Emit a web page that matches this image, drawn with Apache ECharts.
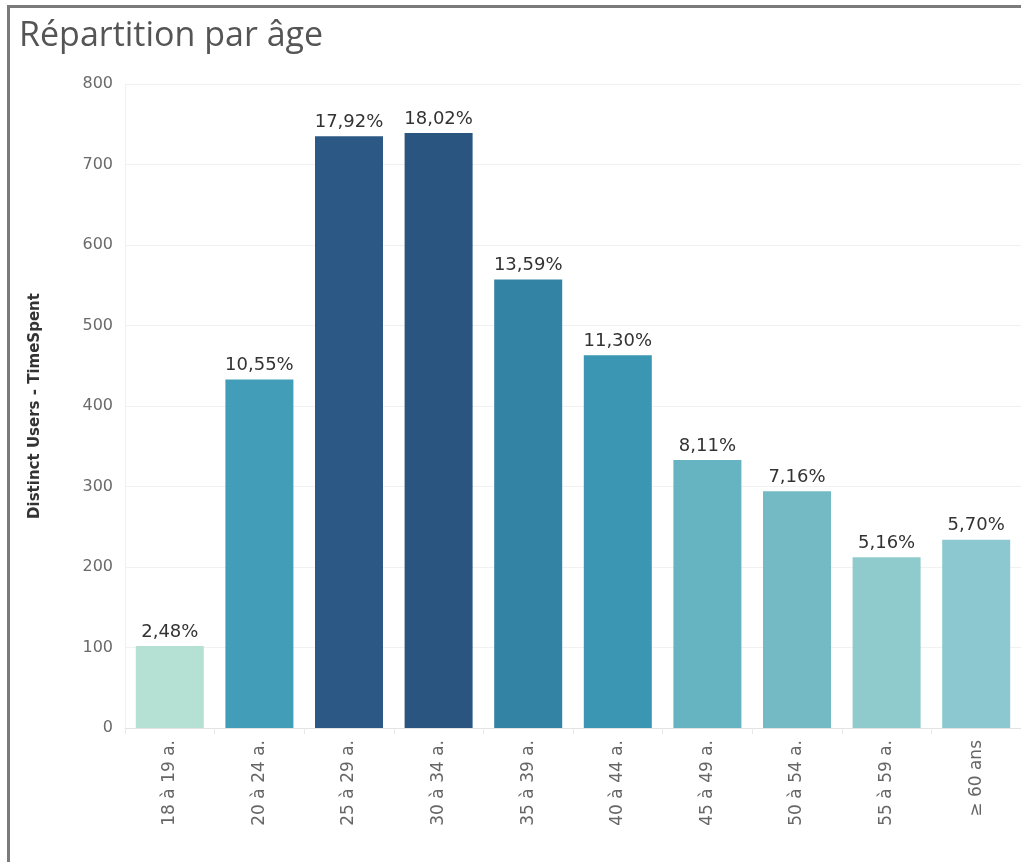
<!DOCTYPE html>
<html style="height: 100%">
<head>
    <meta charset="utf-8">
    <style>
        body { margin: 0; background: #fff; }
        .frame {
            position: absolute;
            left: 7px; top: 5px;
            width: 1014px; height: 857px;
            border-top: 3px solid #7b7b7b;
            border-left: 3px solid #7b7b7b;
            box-sizing: border-box;
        }
        #main {
            position: absolute;
            left: 0; top: 0;
            width: 1021px; height: 862px;
        }
    </style>
    <script type="text/javascript" src="https://cdn.jsdelivr.net/npm/echarts@6/dist/echarts.min.js"></script>
</head>
<body>
<div class="frame"></div>
<div id="main"></div>
<script type="text/javascript">
    // tranches d'âge
    var categories = ['18 à 19 a.', '20 à 24 a.', '25 à 29 a.', '30 à 34 a.', '35 à 39 a.',
                      '40 à 44 a.', '45 à 49 a.', '50 à 54 a.', '55 à 59 a.', '>= 60 ans'];
    // Distinct Users - TimeSpent
    var users = [102, 433, 735, 739, 557, 463, 333, 294, 212, 234];
    // part de chaque tranche
    var shares = ['2,48%', '10,55%', '17,92%', '18,02%', '13,59%', '11,30%', '8,11%', '7,16%', '5,16%', '5,70%'];
    var yTicks = [0, 100, 200, 300, 400, 500, 600, 700, 800];

    var barColors = ['#b4e1d4', '#419db8', '#2c5885', '#2b5581', '#3383a4',
                     '#3a96b2', '#66b3c2', '#73bac5', '#8fcbcd', '#8bc8cf'];

    var titleFont = '"Open Sans", "Noto Sans", sans-serif';
    var font = '"DejaVu Sans", "Open Sans", sans-serif';

    var dom = document.getElementById('main');
    var myChart = echarts.init(dom);
    var option = {
        animation: false,
        title: {
            text: 'Répartition par âge',
            left: 14,
            top: 14,
            textStyle: {
                fontFamily: titleFont,
                fontSize: 34,
                fontWeight: 'normal',
                color: '#555'
            }
        },
        grid: {
            left: 125,
            right: -10,
            top: 84,
            bottom: 134,
            containLabel: false
        },
        xAxis: {
            type: 'category',
            data: categories,
            axisLine: { lineStyle: { color: '#e3e3e3' } },
            axisTick: { show: true, length: 6, lineStyle: { color: '#e8e8e8' } },
            axisLabel: {
                rotate: 90,
                margin: 12,
                fontFamily: font,
                fontSize: 17,
                color: '#666',
                formatter: function (v) { return v.replace('>=', '≥'); }
            }
        },
        yAxis: {
            type: 'value',
            min: yTicks[0],
            max: yTicks[yTicks.length - 1],
            interval: 100,
            name: 'Distinct Users - TimeSpent',
            nameLocation: 'middle',
            nameGap: 82,
            nameTextStyle: {
                fontFamily: font,
                fontSize: 15,
                fontWeight: 'bold',
                color: '#333'
            },
            axisLine: { show: true, lineStyle: { color: '#f0f0f0' } },
            axisTick: { show: false },
            axisLabel: {
                margin: 12,
                fontFamily: font,
                fontSize: 16,
                color: '#6a6a6a'
            },
            splitLine: { lineStyle: { color: '#f1f1f1' } }
        },
        series: [{
            type: 'bar',
            barWidth: 68,
            data: users.map(function (v, i) {
                return { value: v, itemStyle: { color: barColors[i] } };
            }),
            label: {
                show: true,
                position: 'top',
                distance: 5,
                fontFamily: font,
                fontSize: 18,
                color: '#333',
                formatter: function (p) { return shares[p.dataIndex]; }
            }
        }]
    };
    myChart.setOption(option);
</script>
</body>
</html>
